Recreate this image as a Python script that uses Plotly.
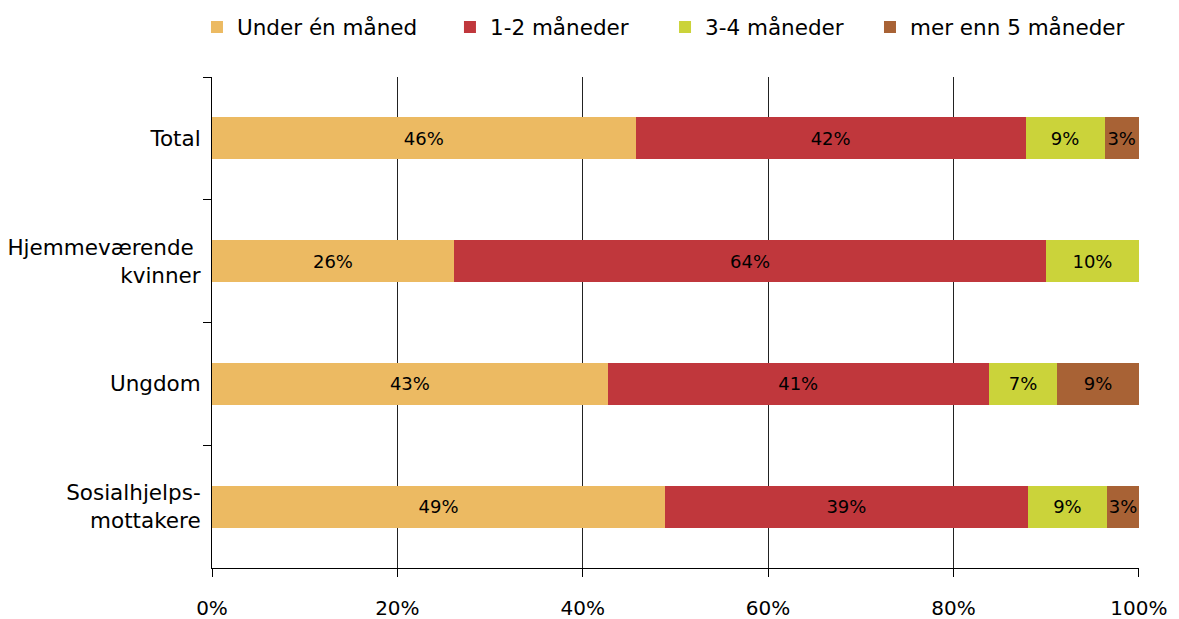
import plotly.graph_objects as go

categories = ["Total", "Hjemmeværende <br>kvinner", "Ungdom", "Sosialhjelps-<br>mottakere"]
series_names = ["Under én måned", "1-2 måneder", "3-4 måneder", "mer enn 5 måneder"]
under_en = [45.7, 26.1, 42.7, 48.9]
en_to = [42.1, 63.9, 41.1, 39.1]
tre_fire = [8.5, 10.0, 7.4, 8.6]
mer_fem = [3.7, 0.0, 8.8, 3.4]
labels_under_en = ["46%", "26%", "43%", "49%"]
labels_en_to = ["42%", "64%", "41%", "39%"]
labels_tre_fire = ["9%", "10%", "7%", "9%"]
labels_mer_fem = ["3%", "", "9%", "3%"]
x_ticks = [0, 20, 40, 60, 80, 100]
x_tick_labels = ["0%", "20%", "40%", "60%", "80%", "100%"]
colors = ["#ECBA62", "#C0373C", "#CBD33A", "#A86235"]

series = [under_en, en_to, tre_fire, mer_fem]
labels = [labels_under_en, labels_en_to, labels_tre_fire, labels_mer_fem]
legend_ids = ["legend", "legend2", "legend3", "legend4"]
legend_x = [-0.0162, 0.2567, 0.4887, 0.7098]

FONT = "DejaVu Sans, Verdana, sans-serif"

fig = go.Figure()
for name, vals, lab, col, lid in zip(series_names, series, labels, colors, legend_ids):
    fig.add_trace(go.Bar(
        y=categories, x=vals, name=name, orientation="h",
        marker=dict(color=col, line=dict(width=0)),
        text=lab, textposition="inside", insidetextanchor="middle",
        constraintext="none", textangle=0,
        textfont=dict(size=18, color="black", family=FONT),
        hoverinfo="x+name", legend=lid, showlegend=True,
    ))

legend_common = dict(orientation="h", y=1.102, yanchor="middle", xanchor="left",
                     font=dict(size=21.5), itemclick=False, bgcolor="rgba(0,0,0,0)",
                     visible=True)

fig.update_layout(
    barmode="stack",
    bargap=0.658,
    showlegend=True,
    width=1179, height=619,
    margin=dict(l=212, r=40, t=77, b=51, autoexpand=False),
    paper_bgcolor="white", plot_bgcolor="white",
    font=dict(family=FONT, size=20, color="black"),
    xaxis=dict(range=[0, 100.02], tickvals=x_ticks, ticktext=x_tick_labels,
               showgrid=True, gridcolor="#222222", gridwidth=1,
               showline=True, linecolor="black", linewidth=1,
               ticks="outside", ticklen=8, tickcolor="black",
               ticklabelstandoff=14, zeroline=False, fixedrange=True,
               automargin=False),
    yaxis=dict(categoryorder="array", categoryarray=categories, autorange="reversed",
               showgrid=False, showline=True, linecolor="black", linewidth=1,
               ticks="outside", ticklen=8, tickcolor="black", tickson="boundaries",
               ticklabelstandoff=6, fixedrange=True, automargin=False,
               tickfont=dict(size=21.5)),
)
for lid, lx in zip(legend_ids, legend_x):
    fig.update_layout({lid: dict(legend_common, x=lx)})

fig.write_html("out.html", config={"displayModeBar": False},
               post_script="document.body.style.margin='0';document.body.style.overflow='hidden';")
